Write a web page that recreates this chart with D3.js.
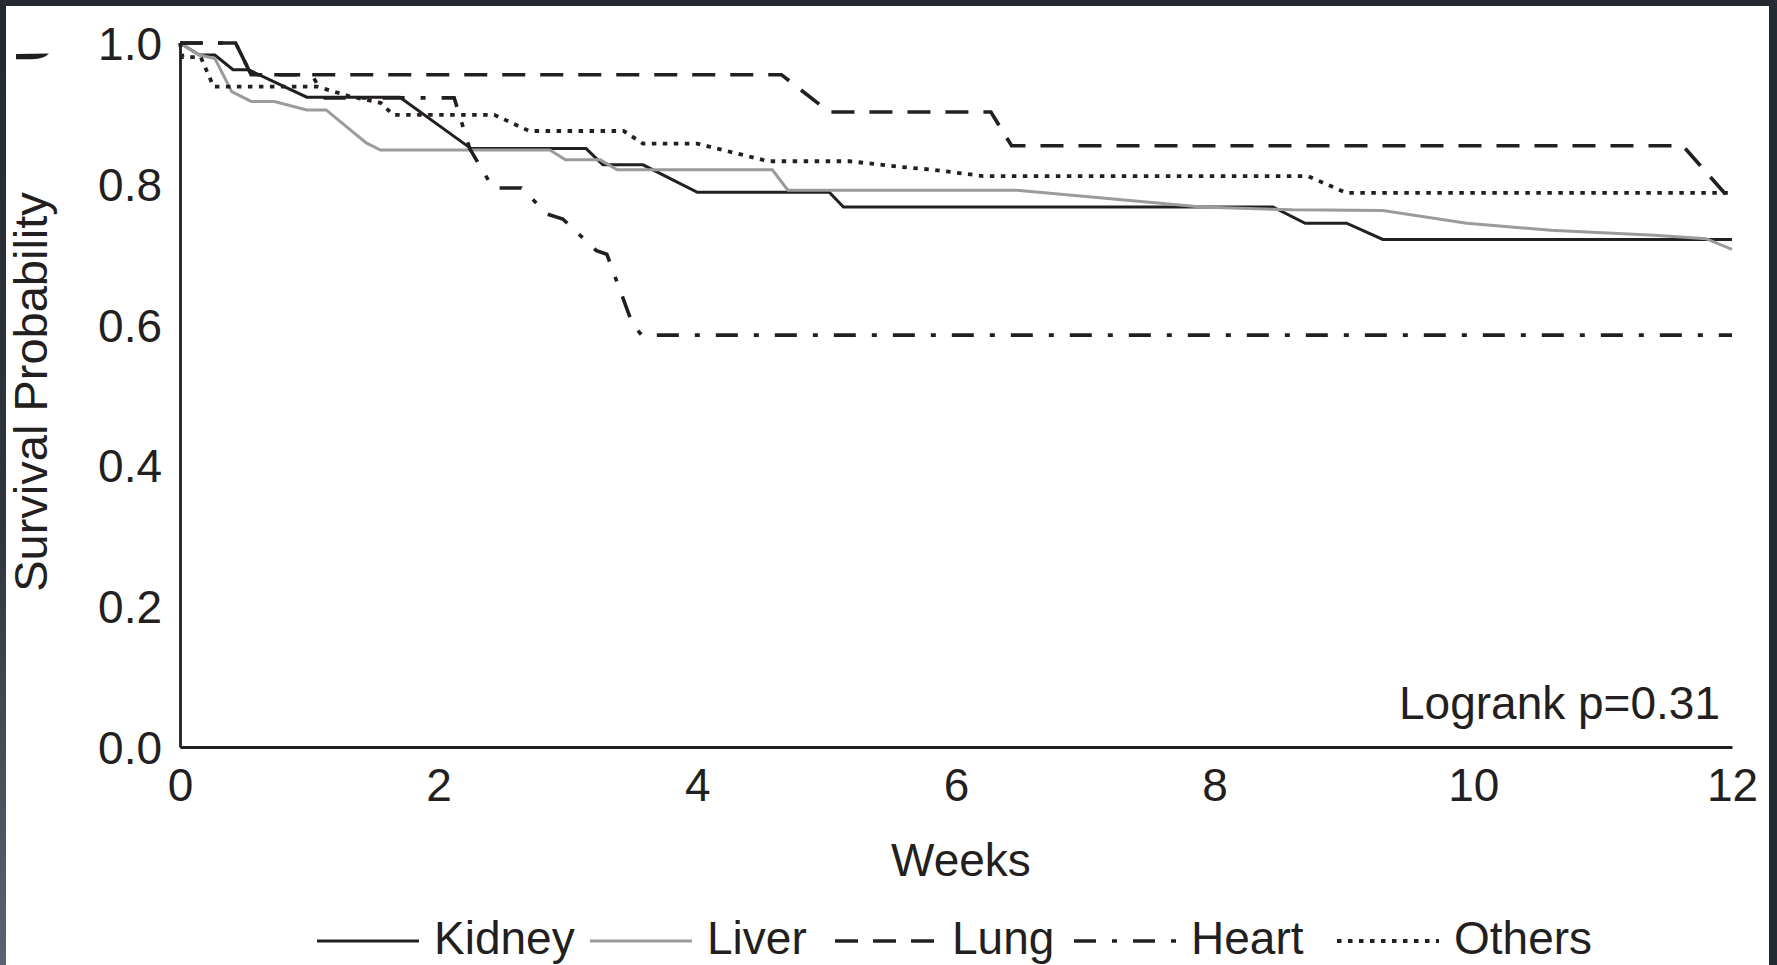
<!DOCTYPE html>
<html>
<head>
<meta charset="utf-8">
<script src="https://cdn.jsdelivr.net/npm/d3@7"></script>
<style>
  html, body { margin: 0; padding: 0; background: #ffffff; overflow: hidden; }
  svg { display: block; }
  text { font-family: "Liberation Sans", Arial, Helvetica, sans-serif; fill: #231f20; }
</style>
</head>
<body>
<svg id="chart" width="1777" height="965"></svg>
<script>
// ---- data: Kaplan-Meier survival by transplant group ----
const groups = ["Kidney", "Liver", "Lung", "Heart", "Others"];
const weekTicks = [0, 2, 4, 6, 8, 10, 12];
const probTicks = [0, 0.2, 0.4, 0.6, 0.8, 1.0];
const xTitle = "Weeks";
const yTitle = "Survival Probability";
const pValueLabel = "Logrank p=0.31";

// [week, survival probability]
const kidney = [[0,1],[0.15,0.983],[0.27,0.983],[0.41,0.962],[0.53,0.962],[0.98,0.923],[1.70,0.923],
  [2.25,0.850],[3.14,0.850],[3.27,0.827],[3.58,0.827],[4.00,0.788],[5.02,0.788],[5.13,0.767],
  [8.45,0.767],[8.70,0.744],[9.02,0.744],[9.30,0.721],[12,0.721]];
const liver = [[0,1],[0.15,0.983],[0.27,0.978],[0.40,0.931],[0.55,0.917],[0.73,0.917],[0.98,0.905],
  [1.13,0.905],[1.44,0.858],[1.55,0.848],[2.86,0.848],[2.98,0.834],[3.25,0.834],[3.38,0.820],
  [4.58,0.820],[4.70,0.791],[6.47,0.791],[7.90,0.767],[8.60,0.763],[9.30,0.762],[9.95,0.744],
  [10.6,0.734],[11.4,0.727],[11.8,0.722],[12,0.707]];
const lung = [[0,1],[0.43,1],[0.55,0.955],[4.65,0.955],[5.02,0.902],[6.27,0.902],[6.43,0.854],
  [11.62,0.854],[11.98,0.779]];
const heart = [[0,1],[0.43,1],[0.55,0.955],[1.02,0.955],[1.12,0.922],[2.12,0.922],[2.24,0.850],
  [2.42,0.794],[2.64,0.794],[2.84,0.757],[2.96,0.750],[3.22,0.705],[3.30,0.700],[3.50,0.600],
  [3.57,0.585],[12,0.585]];
const others = [[0,1],[0.02,0.980],[0.16,0.980],[0.26,0.938],[1.06,0.938],[1.30,0.925],[1.55,0.915],
  [1.65,0.898],[2.43,0.898],[2.70,0.875],[3.43,0.875],[3.58,0.857],[4.00,0.857],[4.55,0.832],
  [5.18,0.832],[5.57,0.824],[5.82,0.820],[6.21,0.811],[8.72,0.811],[9.02,0.787],[12,0.787]];

const seriesValues = [kidney, liver, lung, heart, others];

// ---- line styles per group ----
const styles = {
  Kidney: { stroke: "#231f20", width: 3.0, dash: null },
  Liver:  { stroke: "#9b9b9b", width: 3.0, dash: null },
  Lung:   { stroke: "#231f20", width: 3.6, dash: "23,15" },
  Heart:  { stroke: "#231f20", width: 3.6, dash: "22,16,5,16" },
  Others: { stroke: "#231f20", width: 3.8, dash: "4.5,6.5" }
};

const W = 1777, H = 965;
const plot = { left: 180, right: 1732, top: 43, bottom: 747 };
const fontSize = 46;
// left edge of each legend entry's line sample
const legendX = [317, 590, 835, 1074, 1337];

const svg = d3.select("#chart");

// page background and dark window frame
svg.append("rect").attr("width", W).attr("height", H).attr("fill", "#ffffff");
const defs = svg.append("defs");
const grad = defs.append("linearGradient").attr("id", "edgeGrad")
  .attr("x1", 0).attr("y1", 0).attr("x2", 0).attr("y2", 1);
grad.append("stop").attr("offset", "0%").attr("stop-color", "#252a31");
grad.append("stop").attr("offset", "55%").attr("stop-color", "#2f3640");
grad.append("stop").attr("offset", "100%").attr("stop-color", "#5a6470");
svg.append("rect").attr("x", 0).attr("y", 0).attr("width", W).attr("height", 6).attr("fill", "#252a31");
svg.append("rect").attr("x", 0).attr("y", 0).attr("width", 6).attr("height", H).attr("fill", "url(#edgeGrad)");
svg.append("rect").attr("x", 1769).attr("y", 0).attr("width", W - 1769).attr("height", H).attr("fill", "#262b33");

// clipped fragment of a glyph at the top-left edge
svg.append("path")
  .attr("d", "M16,54 L49,53.5 Q45,58.5 32,59.3 L16,59.3 Z")
  .attr("fill", "#1e1e1e");

// ---- scales ----
const x = d3.scaleLinear().domain([0, 12]).range([plot.left, plot.right]);
const y = d3.scaleLinear().domain([0, 1]).range([plot.bottom, plot.top]);

// ---- axes ----
const xAxis = d3.axisBottom(x).tickValues(weekTicks).tickFormat(d3.format("d"))
  .tickSize(0).tickSizeOuter(0).tickPadding(21);
const yAxis = d3.axisLeft(y).tickValues(probTicks).tickFormat(d3.format(".1f"))
  .tickSize(0).tickSizeOuter(0).tickPadding(18);

const gx = svg.append("g").attr("transform", `translate(0,${plot.bottom})`).call(xAxis);
const gy = svg.append("g").attr("transform", `translate(${plot.left},0)`).call(yAxis);

[gx, gy].forEach(g => {
  g.select(".domain").attr("stroke", "#231f20").attr("stroke-width", 2.8);
  g.selectAll("text").attr("font-size", fontSize).attr("fill", "#231f20")
    .style("font-family", '"Liberation Sans", Arial, sans-serif');
});
gy.selectAll("text").attr("dy", "0.36em");

// ---- survival curves ----
const line = d3.line().x(d => x(d[0])).y(d => y(d[1]));
const curves = svg.append("g").attr("fill", "none");
groups.forEach((g, i) => {
  const s = styles[g];
  curves.append("path")
    .datum(seriesValues[i])
    .attr("d", line)
    .attr("stroke", s.stroke)
    .attr("stroke-width", s.width)
    .attr("stroke-dasharray", s.dash)
    .attr("stroke-linejoin", "miter");
});

// ---- titles and annotation ----
svg.append("text")
  .attr("x", (plot.left + plot.right) / 2 + 5).attr("y", 876)
  .attr("text-anchor", "middle").attr("font-size", fontSize)
  .text(xTitle);

svg.append("text")
  .attr("transform", `translate(47,${(plot.top + plot.bottom) / 2 - 3}) rotate(-90)`)
  .attr("text-anchor", "middle").attr("font-size", fontSize + 1)
  .text(yTitle);

svg.append("text")
  .attr("x", 1720).attr("y", 719)
  .attr("text-anchor", "end").attr("font-size", fontSize)
  .text(pValueLabel);

// ---- legend ----
const legend = svg.append("g");
const sampleLen = 102, textGap = 15, legendLineY = 941, legendBaseY = 954;
groups.forEach((g, i) => {
  const s = styles[g];
  const it = legend.append("g").attr("transform", `translate(${legendX[i]},0)`);
  it.append("line")
    .attr("x1", 0).attr("x2", sampleLen)
    .attr("y1", legendLineY).attr("y2", legendLineY)
    .attr("stroke", s.stroke).attr("stroke-width", s.width)
    .attr("stroke-dasharray", s.dash);
  it.append("text")
    .attr("x", sampleLen + textGap).attr("y", legendBaseY)
    .attr("font-size", fontSize).text(g);
});
</script>
</body>
</html>
